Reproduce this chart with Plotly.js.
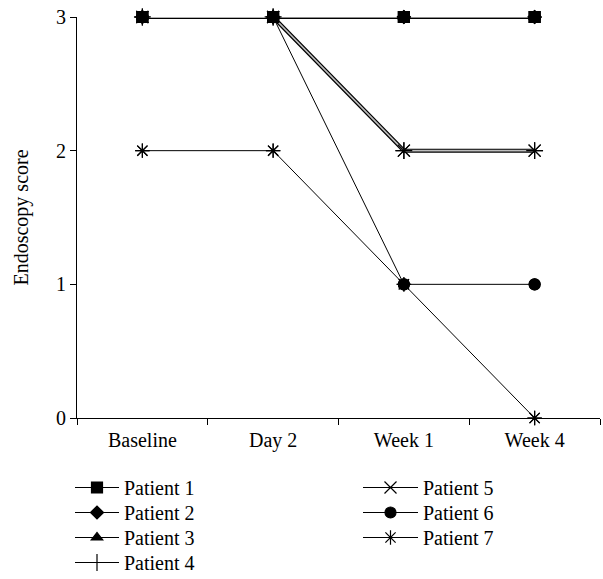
<!DOCTYPE html>
<html>
<head>
<meta charset="utf-8">
<script src="https://cdn.plot.ly/plotly-3.0.1.min.js"></script>
<style>html,body{margin:0;padding:0;background:#fff;}#chart{width:603px;height:579px;}</style>
</head>
<body>
<div id="chart"></div>
<script>
const timepoints = ["Baseline", "Day 2", "Week 1", "Week 4"];
const patientNames = ["Patient 1", "Patient 2", "Patient 3", "Patient 4", "Patient 5", "Patient 6", "Patient 7"];
const patient1 = [3, 3, 3, 3];
const patient2 = [3, 3, 3, 3];
const patient3 = [3, 3, 3, 3];
const patient4 = [3, 3, 2, 2];
const patient5 = [3, 3, 2, 2];
const patient6 = [3, 3, 1, 1];
const patient7 = [2, 2, 1, 0];
const yTicks = [0, 1, 2, 3];

const series = [patient1, patient2, patient3, patient4, patient5, patient6, patient7];
const symbols = ["square", "diamond", "triangle-up", "cross-thin-open", "x-thin-open", "circle", "asterisk-open"];
const sizes = [11, 10, 10, 12, 12, 11, 12];

const traces = [];
series.forEach((ys, i) => {
  traces.push({
    x: timepoints, y: ys, name: patientNames[i], type: "scatter", mode: "lines+markers",
    legend: i === 0 ? "legend" : "legend" + (i + 1), cliponaxis: false,
    line: {color: "#000", width: 1},
    marker: {symbol: symbols[i], size: sizes[i], color: "#000", line: {color: "#000", width: 1.2}},
    hoverinfo: "skip"
  });
});
// double-line look of overlapping series
[patient1, patient4].forEach(ys => {
  traces.push({x: timepoints, y: ys, type: "scatter", mode: "lines", showlegend: false, cliponaxis: false,
    line: {color: "#000", width: 4}, hoverinfo: "skip"});
});
[patient1, patient4].forEach(ys => {
  traces.push({x: timepoints, y: ys, type: "scatter", mode: "lines", showlegend: false, cliponaxis: false,
    line: {color: "#bdbdbd", width: 1.6}, hoverinfo: "skip"});
});
series.forEach((ys, i) => {
  traces.push({x: timepoints, y: ys, type: "scatter", mode: "markers", showlegend: false, cliponaxis: false,
    marker: {symbol: symbols[i], size: sizes[i], color: "#000", line: {color: "#000", width: 1.2}},
    hoverinfo: "skip"});
});

const font = {family: "Liberation Serif, Times New Roman, serif", size: 20, color: "#000"};
// legend item rows (pixel centres) and columns (pixel left edges)
const rowY = [489, 514, 539, 564, 489, 514, 539];
const colX = [70, 70, 70, 70, 358, 358, 358];
const itemW = [44, 44, 44, 44, 55, 55, 55];
function legendAt(px, py, w) {
  return {x: (px - 77) / 523, y: (418 - (py - 21)) / 401, xanchor: "left", yanchor: "top",
    font: font, bgcolor: "rgba(0,0,0,0)", itemwidth: w, borderwidth: 0};
}
const layout = {
  width: 603, height: 579,
  margin: {l: 77, r: 3, t: 17, b: 161, autoexpand: false},
  paper_bgcolor: "#fff", plot_bgcolor: "#fff",
  font: font,
  showlegend: true,
  xaxis: {
    type: "category", range: [-0.5, 3.5],
    showline: true, linecolor: "#000", linewidth: 1,
    ticks: "outside", tickson: "boundaries", ticklen: 6, tickcolor: "#000",
    showgrid: false, zeroline: false, tickfont: font, ticklabelstandoff: 4
  },
  yaxis: {
    range: [0, 3], tickvals: yTicks,
    showline: true, linecolor: "#000", linewidth: 1,
    ticks: "outside", ticklen: 6, tickcolor: "#000",
    showgrid: false, zeroline: false, tickfont: font,
    title: {text: "Endoscopy score", font: font, standoff: 22}
  }
};
for (let i = 0; i < 7; i++) {
  layout[i === 0 ? "legend" : "legend" + (i + 1)] = legendAt(colX[i], rowY[i], itemW[i]);
}
Plotly.newPlot("chart", traces, layout, {displayModeBar: false, staticPlot: true});
</script>
</body>
</html>
